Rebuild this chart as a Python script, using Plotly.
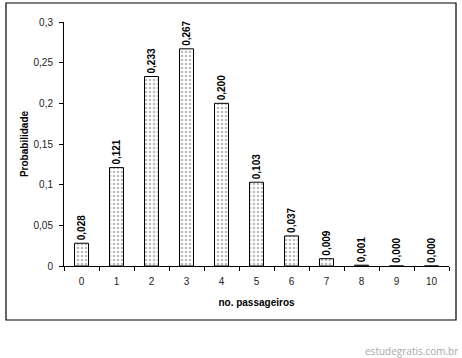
import plotly.graph_objects as go

categories = ["0", "1", "2", "3", "4", "5", "6", "7", "8", "9", "10"]
probabilities = [0.028, 0.121, 0.233, 0.267, 0.200, 0.103, 0.037, 0.009, 0.001, 0.000, 0.000]
y_tickvals = [0, 0.05, 0.1, 0.15, 0.2, 0.25, 0.3]
y_ticktext = ["0", "0,05", "0,1", "0,15", "0,2", "0,25", "0,3"]
x_title = "no. passageiros"
y_title = "Probabilidade"
watermark = "estudegratis.com.br"

FONT = "Arial, Liberation Sans, sans-serif"

fig = go.Figure()
fig.add_trace(go.Bar(
    x=categories,
    y=probabilities,
    marker=dict(
        color="white",
        line=dict(color="black", width=1),
        pattern=dict(shape=".", fgcolor="#7a7a7a", bgcolor="white", size=4, solidity=0.35),
    ),
    text=[f"<b>{v:.3f}</b>".replace(".", ",") for v in probabilities],
    textposition="outside",
    textangle=-90,
    constraintext="none",
    cliponaxis=False,
    textfont=dict(family=FONT, size=10, color="black"),
    width=0.4,
))

W, H = 462, 358
L, R, T, B = 64, 13, 22, 92
pw, ph = W - L - R, H - T - B

def px_to_paper_x(px):
    return (px - L) / pw

def px_to_paper_y(py):
    return (H - B - py) / ph

fig.add_shape(type="rect", xref="paper", yref="paper",
              x0=px_to_paper_x(6), x1=px_to_paper_x(456),
              y0=px_to_paper_y(320), y1=px_to_paper_y(3),
              line=dict(color="black", width=1.2), fillcolor="rgba(0,0,0,0)", layer="below")

fig.add_annotation(text=watermark, xref="paper", yref="paper",
                   x=px_to_paper_x(460), y=px_to_paper_y(351),
                   xanchor="right", yanchor="middle", showarrow=False,
                   font=dict(family="Open Sans, sans-serif", size=10, color="#a8a8a8"))

fig.update_layout(
    width=W, height=H,
    margin=dict(l=L, r=R, t=T, b=B),
    paper_bgcolor="white",
    plot_bgcolor="white",
    showlegend=False,
    font=dict(family=FONT, size=10, color="black"),
    bargap=0.6,
    xaxis=dict(
        type="category",
        showline=True, linecolor="black", linewidth=1,
        ticks="outside", ticklen=4, tickcolor="black", tickson="boundaries",
        ticklabelstandoff=6,
        showgrid=False, zeroline=False,
        tickfont=dict(family=FONT, size=10, color="#222"),
        title=dict(text=f"<b>{x_title}</b>", font=dict(family=FONT, size=10), standoff=12),
    ),
    yaxis=dict(
        range=[0, 0.3],
        tickvals=y_tickvals, ticktext=y_ticktext,
        showline=True, linecolor="black", linewidth=1,
        ticks="outside", ticklen=4, tickcolor="black",
        ticklabelstandoff=4,
        showgrid=False, zeroline=False,
        tickfont=dict(family=FONT, size=10, color="#222"),
        title=dict(text=f"<b>{y_title}</b>", font=dict(family=FONT, size=10), standoff=3),
    ),
)

fig.write_html("out.html")
